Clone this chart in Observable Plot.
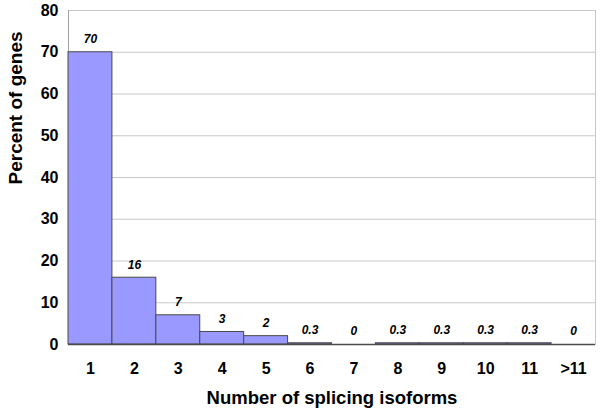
<!DOCTYPE html>
<html>
<head>
<meta charset="utf-8">
<script src="https://cdn.jsdelivr.net/npm/d3@7"></script>
<script src="https://cdn.jsdelivr.net/npm/@observablehq/plot@0.6"></script>
<style>
  html, body { margin: 0; padding: 0; background: #fff; }
  svg { font-family: "Liberation Sans", Arial, sans-serif; }
</style>
</head>
<body>
<div id="chart"></div>
<script>
const categories = ["1","2","3","4","5","6","7","8","9","10","11",">11"];
const percents = [70, 16, 7, 3, 2, 0.3, 0, 0.3, 0.3, 0.3, 0.3, 0];
const valueLabels = ["70","16","7","3","2","0.3","0","0.3","0.3","0.3","0.3","0"];
const yTicks = [0, 10, 20, 30, 40, 50, 60, 70, 80];

const data = categories.map((c, i) => ({cat: c, value: percents[i], label: valueLabels[i]}));

const chart = Plot.plot({
  width: 600,
  height: 415,
  marginLeft: 68,
  marginRight: 5,
  marginTop: 10,
  marginBottom: 71,
  style: {fontFamily: "'Liberation Sans', Arial, sans-serif", background: "#fff"},
  x: {type: "band", domain: categories, padding: 0, round: false},
  y: {domain: [0, 80]},
  marks: [
    Plot.gridY(yTicks, {stroke: "#c8c8c8", strokeOpacity: 1}),
    Plot.frame({stroke: "#c8c8c8", anchor: "right"}),
    Plot.frame({stroke: "#a0a0a0", anchor: "left"}),
    Plot.barY(data, {x: "cat", y: "value", fill: "#9999ff", stroke: "#4a4a4a", strokeWidth: 1, insetLeft: 0, insetRight: 0}),
    Plot.ruleY([0], {stroke: "#4a4a4a", strokeWidth: 1.5}),
    Plot.text(data, {x: "cat", y: "value", text: "label", dy: -13, fontSize: 12, fontWeight: "bold", fontStyle: "italic", fill: "#000"}),
    Plot.axisY(yTicks, {tickSize: 0, tickPadding: 10, fontSize: 16, fontWeight: "bold", fill: "#000", label: null}),
    Plot.axisX({tickSize: 0, tickPadding: 18, fontSize: 16, fontWeight: "bold", fill: "#000", label: null}),
    Plot.text(["Number of splicing isoforms"], {frameAnchor: "bottom", dy: 54, fontSize: 18.5, fontWeight: "bold", fill: "#000", lineAnchor: "middle"}),
    Plot.text(["Percent of genes"], {frameAnchor: "left", dx: -53, dy: 7, rotate: -90, fontSize: 19, fontWeight: "bold", fill: "#000"})
  ]
});
document.getElementById("chart").appendChild(chart);
</script>
</body>
</html>
